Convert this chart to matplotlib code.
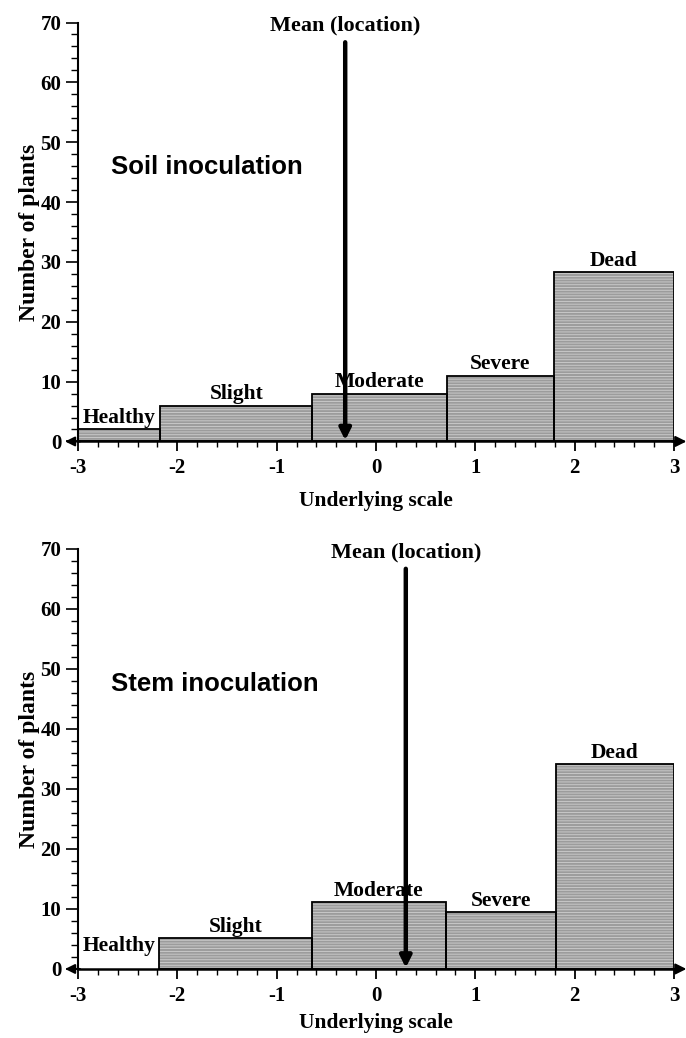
import matplotlib
matplotlib.use("Agg")
import matplotlib.pyplot as plt
import numpy as np

# ---- data ----
categories = ["Healthy", "Slight", "Moderate", "Severe", "Dead"]
soil_edges = [-3.0, -2.17, -0.64, 0.71, 1.79, 3.0]
soil_counts = [2.0, 6.0, 8.0, 11.0, 28.3]
soil_mean = -0.31
stem_edges = [-3.0, -2.18, -0.64, 0.70, 1.81, 3.0]
stem_counts = [0.0, 5.1, 11.2, 9.5, 34.2]
stem_mean = 0.30
x_ticks = [-3, -2, -1, 0, 1, 2, 3]
y_ticks = [0, 10, 20, 30, 40, 50, 60, 70]
panel_titles = ["Soil inoculation", "Stem inoculation"]

SERIF = "Liberation Serif"
SANS = "Liberation Sans"
plt.rcParams["hatch.color"] = "#d4d4d4"
plt.rcParams["hatch.linewidth"] = 0.6

fig = plt.figure(figsize=(6.86, 10.38), dpi=100)
ax_top = fig.add_axes([0.1137, 0.5747, 0.8688, 0.4036])
ax_bot = fig.add_axes([0.1137, 0.0665, 0.8688, 0.4046])


def draw_panel(ax, edges, counts, mean, title, title_y, xlabelpad):
    edges = np.asarray(edges)
    counts = np.asarray(counts)
    lefts = edges[:-1]
    widths = np.diff(edges)
    centers = lefts + widths / 2
    # textured fill
    ax.bar(lefts, counts, width=widths, align="edge", color="#9c9c9c",
           edgecolor="#cfcfcf", hatch="------", linewidth=0, zorder=2)
    # outlines
    ax.bar(lefts[counts > 0], counts[counts > 0], width=widths[counts > 0],
           align="edge", fill=False, edgecolor="black", linewidth=1.3, zorder=3)
    for c, h, lab in zip(centers, counts, categories):
        ax.annotate(lab, xy=(c, max(h, 2.0)), xytext=(0, 4.5),
                    textcoords="offset points", ha="center", va="baseline",
                    fontsize=15.5, fontweight="bold", family=SERIF, zorder=5)
    # mean arrow
    ax.annotate("", xy=(mean, 0.2), xytext=(mean, 66.7),
                arrowprops=dict(arrowstyle="-|>", lw=3.2, color="black",
                                mutation_scale=17, shrinkA=0, shrinkB=0),
                zorder=6, annotation_clip=False)
    ax.text(mean, 69.5, "Mean (location)", ha="center", va="center",
            fontsize=16, fontweight="bold", family=SERIF)
    ax.text(-2.67, title_y, title, ha="left", va="center", fontsize=18.5,
            fontweight="bold", family=SANS)

    ax.set_xlim(-3, 3)
    ax.set_ylim(0, 70)
    for s in ["top", "right", "bottom"]:
        ax.spines[s].set_visible(False)
    ax.spines["left"].set_linewidth(1.5)
    # x axis line with arrowheads
    ax.plot([-3, 3], [0, 0], color="black", lw=1.8, clip_on=False, zorder=4)
    ax.annotate("", xy=(3.125, 0), xytext=(2.98, 0), xycoords="data",
                arrowprops=dict(arrowstyle="-|>", lw=1.5, color="black",
                                mutation_scale=16, shrinkA=0, shrinkB=0),
                annotation_clip=False, zorder=4)
    ax.annotate("", xy=(-3.13, 0), xytext=(-2.98, 0), xycoords="data",
                arrowprops=dict(arrowstyle="-|>", lw=1.5, color="black",
                                mutation_scale=14, shrinkA=0, shrinkB=0),
                annotation_clip=False, zorder=4)

    ax.set_xticks(x_ticks)
    ax.set_xticklabels([str(t) for t in x_ticks])
    ax.set_xticks(np.arange(-3, 3.001, 0.2), minor=True)
    ax.set_yticks(y_ticks)
    ax.set_yticklabels([str(t) for t in y_ticks])
    ax.set_yticks(np.arange(0, 70.001, 2), minor=True)
    ax.tick_params(axis="x", which="major", direction="out", length=7,
                   width=1.3, pad=5)
    ax.tick_params(axis="x", which="minor", direction="out", length=4,
                   width=1.0)
    ax.tick_params(axis="y", which="major", direction="out", length=9,
                   width=1.2, pad=3)
    ax.tick_params(axis="y", which="minor", direction="out", length=5,
                   width=1.0)
    for lab in ax.get_xticklabels() + ax.get_yticklabels():
        lab.set_fontfamily(SERIF)
        lab.set_fontweight("bold")
        lab.set_fontsize(15)
    ax.set_xlabel("Underlying scale", fontsize=15.5, fontweight="bold",
                  family=SERIF, labelpad=xlabelpad)
    ax.set_ylabel("Number of plants", fontsize=17, fontweight="bold",
                  family=SERIF, labelpad=0)


draw_panel(ax_top, soil_edges, soil_counts, soil_mean, panel_titles[0], 45.8, 9)
draw_panel(ax_bot, stem_edges, stem_counts, stem_mean, panel_titles[1], 47.5, 5)

fig.savefig("out.png", dpi=100)
